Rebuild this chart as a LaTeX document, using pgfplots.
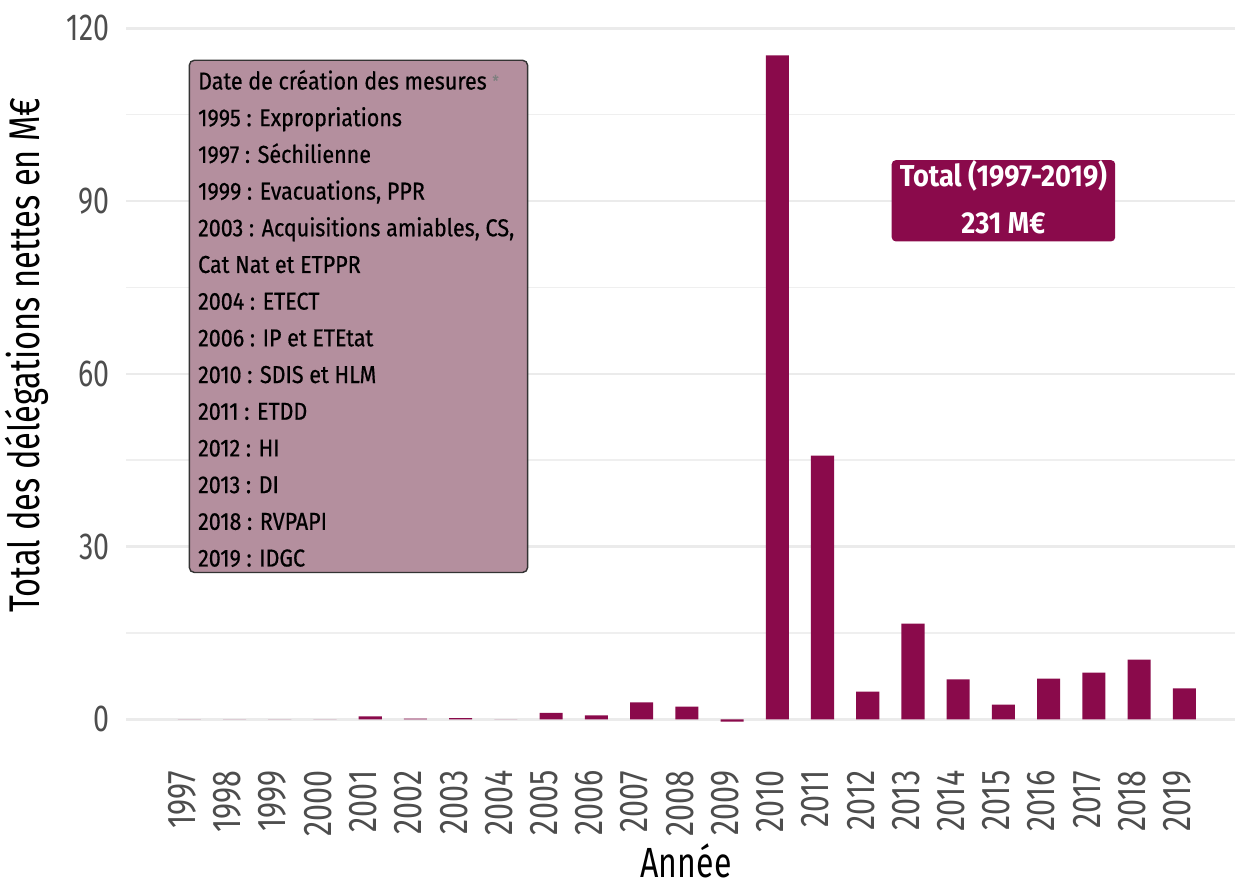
\documentclass[border=0pt]{standalone}
\usepackage{fontspec}
\setmainfont{Fira Sans}[FakeStretch=0.76]
\newfontfamily\boxfont{Fira Sans}[FakeStretch=0.88, FakeBold=0.6]
\newfontfamily\totalfont{Fira Sans}[FakeStretch=0.9]
\usepackage{pgfplots}
\pgfplotsset{compat=1.18}
\definecolor{barcol}{HTML}{8A0A4B}
\definecolor{boxfill}{HTML}{B48F9E}
\definecolor{tickgray}{HTML}{4D4D4D}
\definecolor{gridgray}{HTML}{EBEBEB}

\begin{document}
\begin{tikzpicture}
\begin{axis}[
  scale only axis,
  width=110.9mm, height=73.3mm,
  xmin=1995.6, xmax=2020.12,
  ymin=-6.2, ymax=121.1,
  ybar, bar width=0.51,
  axis line style={draw=none},
  major tick length=0pt, minor tick length=0pt,
  xtick={1997,...,2019},
  ytick={0,30,60,90,120},
  minor ytick={15,45,75,105},
  ymajorgrids, yminorgrids,
  major grid style={gridgray, line width=0.7pt},
  minor grid style={gridgray!80, line width=0.45pt},
  /pgf/number format/assume math mode=true,
  /pgf/number format/1000 sep={},
  xticklabel style={rotate=90, anchor=east, inner sep=0pt, xshift=-1.5mm, yshift=0.7mm,
    text=tickgray, font=\fontsize{11.4}{13}\selectfont},
  yticklabel style={anchor=east, inner sep=0pt, xshift=-1.6mm,
    text=tickgray, font=\fontsize{10.7}{12}\selectfont},
  xlabel={Année},
  ylabel={Total des délégations nettes en M€},
  every axis x label/.style={at={(rel axis cs:0.505,0)}, anchor=center, yshift=-10.6mm,
    font=\fontsize{12}{14}\selectfont},
  every axis y label/.style={at={(rel axis cs:0,0.546)}, anchor=center, rotate=90, yshift=9.9mm,
    font=\fontsize{12.2}{14}\selectfont},
]
\addplot[fill=barcol, draw=none] coordinates {
  (1997,0) (1998,0) (1999,0) (2000,0) (2001,0.5) (2002,0.1) (2003,0.2)
  (2004,0) (2005,1.1) (2006,0.7) (2007,2.95) (2008,2.2) (2009,-0.4)
  (2010,115.3) (2011,45.8) (2012,4.8) (2013,16.6) (2014,6.95) (2015,2.55)
  (2016,7.07) (2017,8.1) (2018,10.37) (2019,5.38)
};

% encadré des dates de création
\draw[rounded corners=0.5mm, fill=boxfill, draw=black!80, line width=0.4pt]
  (axis cs:1997.0,114.45) rectangle (axis cs:2004.48,25.5);
\node[anchor=north west, align=left, inner sep=0pt,
  font=\boxfont\fontsize{6.95}{10.44}\selectfont]
  at (axis cs:1997.18,112.9) {%
  Date de création des mesures {\color{black!50}\fontsize{4.5}{5}\selectfont\raisebox{0.35ex}{*}}\\
  1995 : Expropriations\\
  1997 : Séchilienne\\
  1999 : Evacuations, PPR\\
  2003 : Acquisitions amiables, CS,\\
  Cat Nat et ETPPR\\
  2004 : ETECT\\
  2006 : IP et ETEtat\\
  2010 : SDIS et HLM\\
  2011 : ETDD\\
  2012 : HI\\
  2013 : DI\\
  2018 : RVPAPI\\
  2019 : IDGC};

% total
\draw[rounded corners=0.4mm, fill=barcol, draw=none]
  (axis cs:2012.53,97.1) rectangle (axis cs:2017.47,83.0);
\node[anchor=base, inner sep=0pt, text=white, font=\totalfont\bfseries\fontsize{8.6}{10}\selectfont]
  at (axis cs:2015.0,92.6) {Total (1997-2019)};
\node[anchor=base, inner sep=0pt, text=white, font=\totalfont\bfseries\fontsize{8.6}{10}\selectfont]
  at (axis cs:2015.0,84.4) {231 M€};
\end{axis}
\pgfresetboundingbox
\path[use as bounding box] (current axis.south west) ++(-12.6mm,-12.8mm) rectangle ++(123.5mm,88.3mm);
\end{tikzpicture}
\end{document}
